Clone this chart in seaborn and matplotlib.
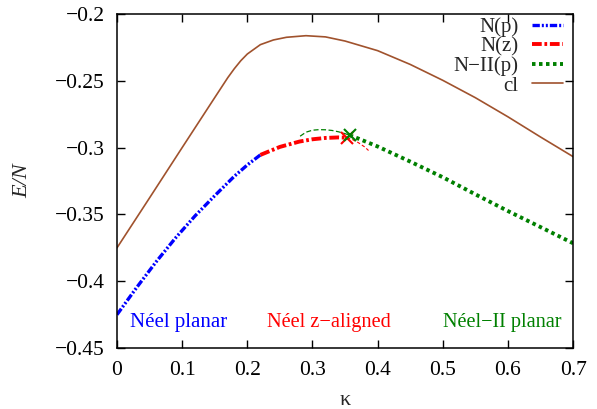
import matplotlib
matplotlib.use("Agg")
import matplotlib.pyplot as plt
import seaborn as sns

# N(p) - Neel planar
np_kappa = [0.00, 0.03, 0.06, 0.09, 0.12, 0.15, 0.18, 0.20, 0.22]
np_energy = [-0.4250, -0.4048, -0.3855, -0.3675, -0.3510, -0.3360, -0.3215, -0.3130, -0.3055]

# N(z) - Neel z-aligned (stable part, then metastable tail)
nz_kappa = [0.22, 0.25, 0.28, 0.30, 0.32, 0.34, 0.353]
nz_energy = [-0.3055, -0.2995, -0.2955, -0.2938, -0.2928, -0.2924, -0.2926]
nz_meta_kappa = [0.353, 0.36, 0.37, 0.38, 0.386]
nz_meta_energy = [-0.2926, -0.2937, -0.2962, -0.2995, -0.3022]

# N-II(p) - Neel-II planar (stable part, then metastable tail)
n2_kappa = [0.357, 0.37, 0.40, 0.45, 0.50, 0.55, 0.60, 0.65, 0.70]
n2_energy = [-0.2908, -0.2932, -0.2992, -0.3105, -0.3222, -0.3350, -0.3475, -0.3595, -0.3716]
n2_meta_kappa = [0.281, 0.29, 0.30, 0.31, 0.32, 0.33, 0.34, 0.35, 0.357]
n2_meta_energy = [-0.2915, -0.2885, -0.2870, -0.2866, -0.2867, -0.2872, -0.2882, -0.2896, -0.2908]

# transition points
cross_red = (0.353, -0.2928)
cross_green = (0.357, -0.2905)

# classical energy
cl_kappa = [0.00, 0.05, 0.10, 0.15, 0.17, 0.18, 0.19, 0.20, 0.22, 0.24, 0.26, 0.29,
            0.32, 0.35, 0.40, 0.45, 0.50, 0.55, 0.60, 0.65, 0.70]
cl_energy = [-0.3750, -0.3376, -0.3000, -0.2626, -0.2477, -0.2410, -0.2350, -0.2300,
             -0.2230, -0.2195, -0.2175, -0.2163, -0.2172, -0.2203, -0.2275, -0.2378,
             -0.2497, -0.2627, -0.2770, -0.2921, -0.3068]

x_ticks = [0, 0.1, 0.2, 0.3, 0.4, 0.5, 0.6, 0.7]
x_labels = ["0", "0.1", "0.2", "0.3", "0.4", "0.5", "0.6", "0.7"]
y_ticks = [-0.45, -0.4, -0.35, -0.3, -0.25, -0.2]
y_labels = ["\u22120.45", "\u22120.4", "\u22120.35", "\u22120.3", "\u22120.25", "\u22120.2"]

BLUE = "#0000ff"
RED = "#ff0000"
GREEN = "#008000"
BROWN = "#a0522d"

sns.set_style("ticks")
plt.rcParams["font.family"] = ["Liberation Serif", "DejaVu Serif"]
plt.rcParams["axes.linewidth"] = 1.1

fig = plt.figure(figsize=(5.97, 4.09), dpi=100)
ax = fig.add_axes([0.196, 0.149, 0.764, 0.817])

sns.lineplot(x=np_kappa, y=np_energy, ax=ax, color=BLUE, linewidth=2.4,
             linestyle=(0, (2.2, 0.6, 0.6, 0.6, 0.6, 0.6)), sort=False, estimator=None,
             label="N(p)")
sns.lineplot(x=nz_kappa, y=nz_energy, ax=ax, color=RED, linewidth=2.8,
             linestyle=(0, (2.5, 0.7, 0.7, 0.7)), sort=False, estimator=None,
             label="N(z)")
sns.lineplot(x=n2_kappa, y=n2_energy, ax=ax, color=GREEN, linewidth=2.8,
             linestyle=(0, (0.9, 0.9)), sort=False, estimator=None,
             label="N\u2212II(p)")
sns.lineplot(x=cl_kappa, y=cl_energy, ax=ax, color=BROWN, linewidth=1.2,
             sort=False, estimator=None, label="cl")

# metastable continuations
sns.lineplot(x=nz_meta_kappa, y=nz_meta_energy, ax=ax, color=RED, linewidth=0.8,
             linestyle=(0, (3, 2)), sort=False, estimator=None, legend=False)
sns.lineplot(x=n2_meta_kappa, y=n2_meta_energy, ax=ax, color=GREEN, linewidth=0.9,
             linestyle=(0, (4, 2)), sort=False, estimator=None, legend=False)

ax.plot(*cross_red, marker="x", color=RED, markersize=8, markeredgewidth=1.5)
ax.plot(*cross_green, marker="x", color=GREEN, markersize=8, markeredgewidth=1.5)

ax.text(0.02, -0.431, "N\u00e9el planar", color=BLUE, fontsize=15, va="center")
ax.text(0.23, -0.431, "N\u00e9el z\u2212aligned", color=RED, fontsize=14.7, va="center")
ax.text(0.5005, -0.431, "N\u00e9el\u2212II planar", color=GREEN, fontsize=14.6, va="center")

ax.set_xlim(0, 0.7)
ax.set_ylim(-0.45, -0.2)
ax.set_xticks(x_ticks)
ax.set_xticklabels(x_labels)
ax.set_yticks(y_ticks)
ax.set_yticklabels(y_labels)
ax.tick_params(direction="in", length=6, width=1, top=True, right=True,
               labelsize=15.5, pad=9, colors="black")
for spine in ax.spines.values():
    spine.set_visible(True)
    spine.set_color("black")

ax.set_xlabel("\u03ba", fontsize=16, labelpad=8)
ax.set_ylabel("E/N", fontsize=16, style="italic", labelpad=16)

ax.legend(loc="upper right", bbox_to_anchor=(0.987, 1.003), frameon=False,
          markerfirst=False, fontsize=15, handlelength=1.5, labelspacing=0.0,
          borderaxespad=0.0, borderpad=0.2, handletextpad=0.65)

plt.savefig("out.png", dpi=100)
